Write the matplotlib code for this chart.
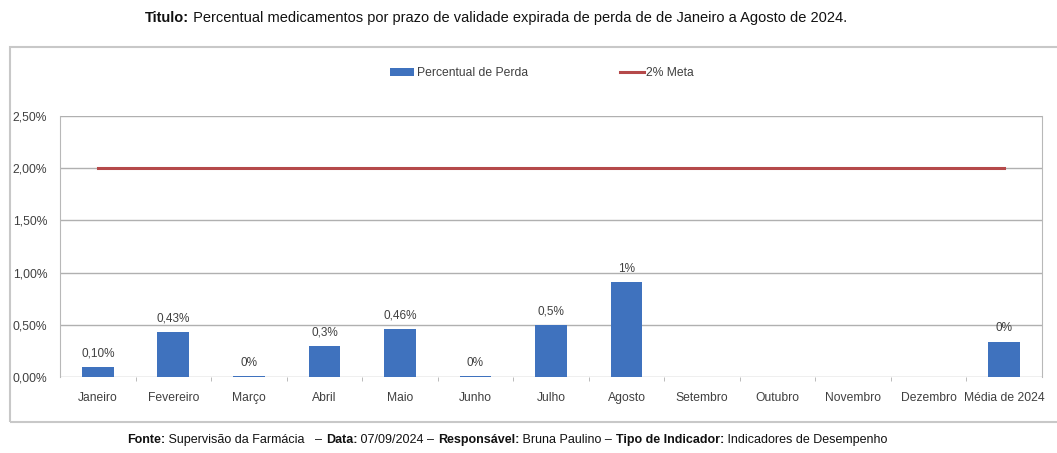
#!/usr/bin/env python3
"""
Percentual de perda de medicamentos por validade expirada - Jan a Ago 2024.
"""
import matplotlib.pyplot as plt
from matplotlib.patches import Rectangle
from matplotlib.ticker import FuncFormatter, FixedLocator

# Data
months = ['Janeiro', 'Fevereiro', 'Março', 'Abril', 'Maio', 'Junho', 'Julho',
          'Agosto', 'Setembro', 'Outubro', 'Novembro', 'Dezembro', 'Média de 2024']
perda = [0.10, 0.43, 0.005, 0.30, 0.46, 0.005, 0.50, 0.91, None, None, None, None, 0.34]
perda_labels = ['0,10%', '0,43%', '0%', '0,3%', '0,46%', '0%', '0,5%', '1%',
                None, None, None, None, '0%']
meta = [2.0] * len(months)

bar_color = '#3F72BE'
meta_color = '#B5494A'
grid_color = '#B0B0B0'
text_color = '#404040'

plt.rcParams['font.family'] = ['Liberation Sans', 'DejaVu Sans']


def rich_line(fig, xc, y, parts, fontsize):
    """Draw a line of mixed bold/normal text centred at xc (figure coords)."""
    renderer = fig.canvas.get_renderer()
    texts = []
    widths = []
    for s, bold in parts:
        t = fig.text(0, y, s, fontsize=fontsize, va='baseline', ha='left',
                     fontweight='bold' if bold else 'normal', color='#111111')
        texts.append(t)
        widths.append(t.get_window_extent(renderer).width / fig.bbox.width)
    x = xc - sum(widths) / 2
    for t, w in zip(texts, widths):
        t.set_x(x)
        x += w


fig = plt.figure(figsize=(10.57, 4.53), dpi=100)

# Outer chart frame
fig.patches.append(Rectangle((10 / 1057, 1 - 422 / 453), 1.0, (422 - 47) / 453,
                             transform=fig.transFigure, fill=False,
                             edgecolor='#C8C8C8', linewidth=1.5))

ax = fig.add_axes([60 / 1057, 1 - 377 / 453, (1042 - 60) / 1057, (377 - 116) / 453])

x = list(range(len(months)))
bx = [i for i, v in zip(x, perda) if v is not None]
bv = [v for v in perda if v is not None]
bl = [l for l in perda_labels if l is not None]

bars = ax.bar(bx, bv, width=0.42, color=bar_color, zorder=3, label='Percentual de Perda')
for xi, vi, li in zip(bx, bv, bl):
    ax.text(xi, vi + 0.07, li, ha='center', va='bottom', fontsize=8.5, color=text_color)

line, = ax.plot(x, meta, color=meta_color, linewidth=2.2, zorder=4, label='2% Meta')

ax.set_xlim(-0.5, len(months) - 0.5)
ax.set_ylim(0, 2.5)
ax.set_yticks([0, 0.5, 1.0, 1.5, 2.0, 2.5])
ax.yaxis.set_major_formatter(FuncFormatter(lambda v, _: f'{v:.2f}%'.replace('.', ',')))
ax.set_xticks(x)
ax.set_xticklabels(months, fontsize=8.7, color=text_color, va='baseline')
ax.xaxis.set_minor_locator(FixedLocator([i + 0.5 for i in x[:-1]]))
ax.tick_params(axis='x', which='major', length=0, pad=17)
ax.tick_params(axis='x', which='minor', length=3, color=grid_color)
ax.tick_params(axis='y', labelsize=8.7, labelcolor=text_color, length=0, pad=34)
for lab in ax.get_yticklabels():
    lab.set_horizontalalignment('left')

ax.grid(axis='y', color=grid_color, linewidth=1, zorder=0)
for side in ['top', 'bottom']:
    ax.spines[side].set_visible(False)
for side in ['left', 'right']:
    ax.spines[side].set_color('#B8B8B8')

ax.legend([bars, line], ['Percentual de Perda', '2% Meta'],
          loc='lower center', bbox_to_anchor=(0.491, 1.1), ncol=2, frameon=False,
          fontsize=8.7, handlelength=2, columnspacing=7.6, handletextpad=0.2,
          labelcolor=text_color)

rich_line(fig, 0.469, 1 - 22 / 453,
          [('Titulo:', True),
           (' Percentual medicamentos por prazo de validade expirada de perda de de '
            'Janeiro a Agosto de 2024.', False)], 10.5)
rich_line(fig, 0.480, 1 - 443 / 453,
          [('Fonte:', True), (' Supervisão da Farmácia   – ', False),
           ('Data:', True), (' 07/09/2024 – ', False),
           ('Responsável:', True), (' Bruna Paulino – ', False),
           ('Tipo de Indicador:', True), (' Indicadores de Desempenho', False)], 9)

fig.savefig('out.png', dpi=100)
